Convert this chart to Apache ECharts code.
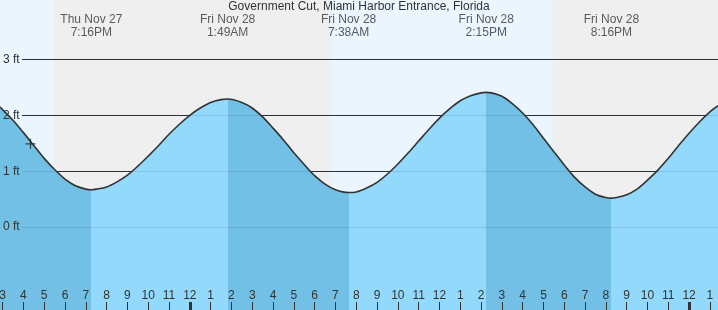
<!DOCTYPE html>
<html>
<head>
<meta charset="utf-8">
<script src="https://cdn.jsdelivr.net/npm/echarts@6/dist/echarts.min.js"></script>
<style>
html,body{margin:0;padding:0;background:#ebf5fe;}
#chart{width:718px;height:310px;}
</style>
</head>
<body>
<div id="chart"></div>
<script>
// ---- data (hours relative to midnight starting Fri Nov 28; heights in ft) ----
const titleText = 'Government Cut, Miami Harbor Entrance, Florida';
const tideHours = [-9.125, -9, -8.5, -8, -7.5, -7, -6.5, -6, -5.5, -5,
  -4.733, -4.5, -4, -3.5, -3, -2.5, -2, -1.5, -1, -0.5,
  0, 0.5, 1, 1.5, 1.817, 2.5, 3, 3.5, 4, 4.5,
  5, 5.5, 6, 6.5, 7, 7.633, 8, 8.5, 9, 9.5,
  10, 10.5, 11, 11.5, 12, 12.5, 13, 13.5, 14, 14.25,
  14.5, 15, 15.5, 16, 16.5, 17, 17.5, 18, 18.5, 19,
  19.5, 20, 20.267, 20.5, 21, 21.5, 22, 22.5, 23, 23.5,
  24, 24.5, 25, 25.39];
const tideFeet = [2.15, 2.10, 1.91, 1.69, 1.46, 1.23, 1.03, 0.86, 0.74, 0.68,
  0.67, 0.68, 0.72, 0.81, 0.93, 1.09, 1.27, 1.46, 1.66, 1.84,
  2.00, 2.13, 2.23, 2.28, 2.29, 2.23, 2.13, 1.97, 1.77, 1.56,
  1.33, 1.12, 0.92, 0.77, 0.67, 0.62, 0.63, 0.70, 0.80, 0.95,
  1.13, 1.33, 1.54, 1.75, 1.95, 2.12, 2.26, 2.35, 2.40, 2.41,
  2.40, 2.34, 2.21, 2.04, 1.83, 1.59, 1.35, 1.11, 0.89, 0.72,
  0.59, 0.53, 0.52, 0.53, 0.58, 0.68, 0.84, 1.02, 1.23, 1.46,
  1.68, 1.88, 2.06, 2.17];
const extremeHours = [-4.733, 1.817, 7.633, 14.25, 20.267];
const extremeType  = ['L', 'H', 'L', 'H', 'L'];
const extremeDays  = ['Thu Nov 27', 'Fri Nov 28', 'Fri Nov 28', 'Fri Nov 28', 'Fri Nov 28'];
const extremeClock = ['7:16PM', '1:49AM', '7:38AM', '2:15PM', '8:16PM'];
const nightStart = [-6.51, 17.45];
const nightEnd   = [6.79, 25.39];
const footLevels = [0, 1, 2, 3];
const midnightHours = [0, 24];
const nowHour = -7.66, nowFeet = 1.49;

// ---- layout constants ----
const X_MIN = -9.125, X_MAX = 25.39;
const Y_MIN = -1.48, Y_MAX = 4.06;
const W = 718;
const hourTicks = [];
for (let h = Math.ceil(X_MIN); h <= Math.floor(X_MAX); h++) hourTicks.push(h);
const lineStart = X_MIN + 22 * (X_MAX - X_MIN) / W;

const FONT = "'Liberation Sans', Arial, sans-serif";
const TXT = '#333333';
const DARK = '#72c0e5', LIGHT = '#93d9fb';

const tideData = tideHours.map((h, i) => [h, tideFeet[i]]);

// falling (toward a low) = dark, rising = light
const bounds = [X_MIN - 1].concat(extremeHours).concat([X_MAX + 1]);
const pieces = [];
for (let i = 0; i < bounds.length - 1; i++) {
  const falling = i < extremeType.length && extremeType[i] === 'L';
  pieces.push({ gte: bounds[i], lt: bounds[i + 1], color: falling ? DARK : LIGHT });
}

const levelLines = () => footLevels.map(v => [{ coord: [lineStart, v] }, { coord: [X_MAX, v] }]);

const chart = echarts.init(document.getElementById('chart'), null, { renderer: 'canvas' });
chart.setOption({
  backgroundColor: '#ebf5fe',
  animation: false,
  textStyle: { fontFamily: FONT },
  title: {
    text: titleText, left: 'center', top: 1, padding: 0,
    textStyle: { fontSize: 12, fontWeight: 'normal', color: TXT, fontFamily: FONT }
  },
  grid: { left: 0, right: 0, top: 0, bottom: 0, containLabel: false, outerBoundsMode: 'none' },
  xAxis: [{
    type: 'value', min: X_MIN, max: X_MAX, position: 'bottom', z: 10,
    axisLine: { show: false, onZero: false }, splitLine: { show: false },
    axisTick: { show: true, inside: true, length: 8, customValues: hourTicks, lineStyle: { color: TXT, width: 1 } },
    axisLabel: {
      show: true, inside: true, margin: 8, customValues: hourTicks, hideOverlap: false,
      color: TXT, fontSize: 12, fontFamily: FONT,
      formatter: v => { const m = ((Math.round(v) % 12) + 12) % 12; return String(m === 0 ? 12 : m); }
    }
  }, {
    type: 'value', min: X_MIN, max: X_MAX, position: 'bottom', z: 11,
    axisLine: { show: false, onZero: false }, splitLine: { show: false }, axisLabel: { show: false },
    axisTick: { show: true, inside: true, length: 8, customValues: midnightHours, lineStyle: { color: TXT, width: 3 } }
  }],
  yAxis: [{
    type: 'value', min: Y_MIN, max: Y_MAX, position: 'left', z: 10,
    axisLine: { show: false, onZero: false }, axisTick: { show: false }, splitLine: { show: false },
    axisLabel: {
      show: true, inside: true, margin: 3, customValues: footLevels,
      color: TXT, fontSize: 12, fontFamily: FONT, formatter: '{value} ft'
    }
  }, {
    type: 'value', min: 0, max: 310, inverse: true, show: false
  }],
  visualMap: {
    show: false, type: 'piecewise', dimension: 0, seriesIndex: 2, pieces: pieces
  },
  series: [{
    type: 'line', data: [], z: 0, silent: true,
    markArea: {
      z: 0, silent: true,
      itemStyle: { color: '#efefef' },
      data: nightStart.map((s, i) => [{ coord: [s, Y_MAX] }, { coord: [nightEnd[i], Y_MIN] }])
    }
  }, {
    type: 'line', data: [], z: 1, silent: true,
    markLine: {
      z: 1, silent: true, symbol: ['none', 'none'], label: { show: false },
      lineStyle: { color: TXT, width: 1, type: 'solid' },
      data: levelLines()
    }
  }, {
    type: 'line', data: tideData, z: 2, silent: true,
    smooth: 0.33, showSymbol: false,
    lineStyle: { width: 0, opacity: 0 },
    areaStyle: { opacity: 1, origin: 'start' }
  }, {
    type: 'line', data: tideData, z: 3, silent: true,
    smooth: 0.33, showSymbol: false,
    lineStyle: { color: '#333333', width: 1.6 },
    markLine: {
      z: 4, silent: true, symbol: ['none', 'none'], label: { show: false },
      lineStyle: { color: 'rgba(0,40,80,0.12)', width: 1, type: 'solid' },
      data: levelLines()
    }
  }, {
    type: 'scatter', z: 5, silent: true,
    data: [[nowHour, nowFeet]],
    symbol: 'path://M0,4.4L10,4.4L10,5.6L0,5.6Z M4.4,0L5.6,0L5.6,10L4.4,10Z',
    symbolSize: 10,
    itemStyle: { color: '#222222' }
  }, {
    type: 'scatter', z: 6, silent: true, yAxisIndex: 1,
    data: extremeHours.map((h, i) => ({ value: [h, 26], day: extremeDays[i], clock: extremeClock[i] })),
    symbolSize: 0,
    label: {
      show: true, position: 'inside', color: TXT, fontSize: 12, lineHeight: 12.5, fontFamily: FONT,
      formatter: p => p.data.day + '\n' + p.data.clock
    }
  }]
});
</script>
</body>
</html>
